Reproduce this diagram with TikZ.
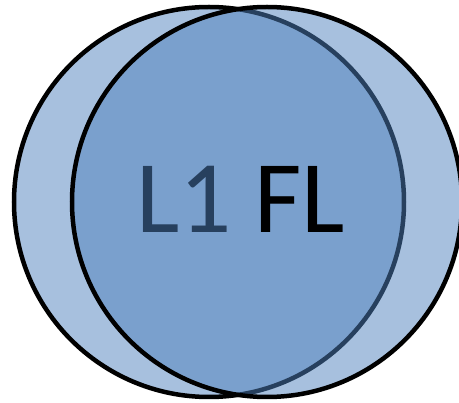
\documentclass[tikz,border=0pt]{standalone}
\usepackage{fontspec}
\setmainfont{Carlito}
\usepackage{tikz}
\usetikzlibrary{positioning}
\definecolor{accent}{HTML}{4F81BD}

\begin{document}
\begin{tikzpicture}[
            x=1pt, y=-1pt,
            set/.style={circle, draw=black, line width=4.5pt, fill=accent, fill opacity=0.5, minimum size=390pt, inner sep=0pt},
            label/.style={inner sep=0pt, font=\fontsize{103}{103}\selectfont, text=black}
        ]
            \useasboundingbox (0,0) rectangle (459,403);
            \node[set] (l1set) at (209,202) {};
            \node[label, anchor=base west] (l1) at (136,233) {L1};
            \node[set] (flset) at (267,202) {};
            \node[label, anchor=base west, right=22pt of l1.base east, anchor=base west] (fl) {FL};
        \end{tikzpicture}
\end{document}
